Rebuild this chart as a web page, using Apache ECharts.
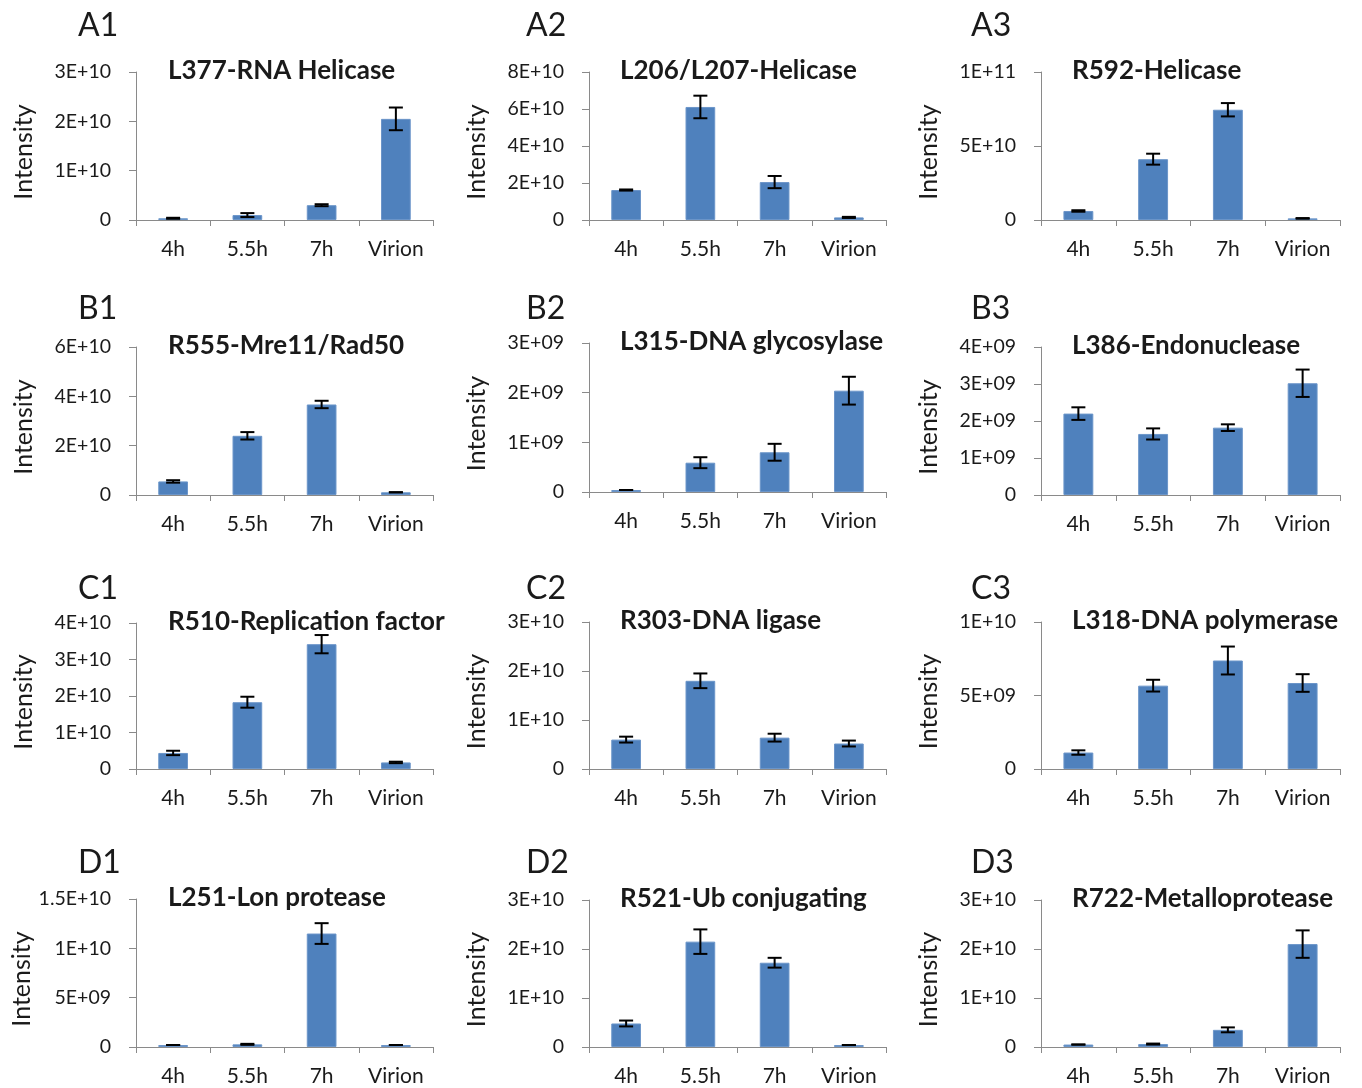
<!DOCTYPE html>
<html>
<head>
<meta charset="utf-8">
<script src="https://cdn.jsdelivr.net/npm/echarts@6/dist/echarts.min.js"></script>
<style>
html,body{margin:0;padding:0;background:#fff;}
#chart{width:1362px;height:1088px;}
</style>
</head>
<body>
<div id="chart"></div>
<script>
// ---------- DATA ----------
const categories = ['4h', '5.5h', '7h', 'Virion'];
const panelLetters = ['A1','A2','A3','B1','B2','B3','C1','C2','C3','D1','D2','D3'];
const panelTitles = [
  'L377-RNA Helicase', 'L206/L207-Helicase', 'R592-Helicase',
  'R555-Mre11/Rad50', 'L315-DNA glycosylase', 'L386-Endonuclease',
  'R510-Replication factor', 'R303-DNA ligase', 'L318-DNA polymerase',
  'L251-Lon protease', 'R521-Ub conjugating', 'R722-Metalloprotease'
];
const yMax      = [3e10, 8e10, 1e11, 6e10, 3e9, 4e9, 4e10, 3e10, 1e10, 1.5e10, 3e10, 3e10];
const yInterval = [1e10, 2e10, 5e10, 2e10, 1e9, 1e9, 1e10, 1e10, 5e9, 5e9, 1e10, 1e10];

const valsA1 = [3.5e8, 1.0e9, 3.0e9, 2.05e10];   const errA1 = [1e8, 4e8, 2e8, 2.3e9];
const valsA2 = [1.62e10, 6.11e10, 2.05e10, 1.4e9]; const errA2 = [3e8, 6.1e9, 3.3e9, 3e8];
const valsA3 = [6.1e9, 4.11e10, 7.45e10, 1.1e9];  const errA3 = [5e8, 3.7e9, 4.5e9, 2e8];
const valsB1 = [5.5e9, 2.40e10, 3.67e10, 1.1e9];  const errB1 = [5e8, 1.5e9, 1.5e9, 0];
const valsB2 = [4e7, 5.9e8, 8.0e8, 2.04e9];       const errB2 = [0, 1.1e8, 1.7e8, 2.8e8];
const valsB3 = [2.2e9, 1.65e9, 1.82e9, 3.02e9];   const errB3 = [1.7e8, 1.5e8, 9e7, 3.7e8];
const valsC1 = [4.4e9, 1.83e10, 3.42e10, 1.8e9];  const errC1 = [6e8, 1.5e9, 2.5e9, 2e8];
const valsC2 = [6.0e9, 1.8e10, 6.4e9, 5.2e9];     const errC2 = [6e8, 1.5e9, 8e8, 6e8];
const valsC3 = [1.12e9, 5.67e9, 7.38e9, 5.85e9];  const errC3 = [1.5e8, 4e8, 9.5e8, 6e8];
const valsD1 = [2e8, 2.7e8, 1.15e10, 2e8];        const errD1 = [0, 5e7, 1.05e9, 0];
const valsD2 = [4.8e9, 2.15e10, 1.72e10, 4e8];    const errD2 = [6e8, 2.5e9, 1e9, 0];
const valsD3 = [5e8, 6e8, 3.5e9, 2.1e10];         const errD3 = [0, 1e8, 5e8, 2.8e9];

const allVals = [valsA1, valsA2, valsA3, valsB1, valsB2, valsB3, valsC1, valsC2, valsC3, valsD1, valsD2, valsD3];
const allErrs = [errA1, errA2, errA3, errB1, errB2, errB3, errC1, errC2, errC3, errD1, errD2, errD3];

// ---------- LAYOUT ----------
const colLeft = [136, 589, 1041];
const colWidth = [297, 297, 299];
const gridTop  = [72, 72, 72, 347, 343, 347, 623, 622, 622, 899, 900, 900];
const gridZero = [220, 220, 220, 495, 492, 495, 769, 769, 769, 1047, 1047, 1047];
const letterX = [78, 526, 971];
const letterY = [25, 308, 588, 862];
const titleX = [168, 620, 1072];

const FONT = 'Lato, "Open Sans", "Liberation Sans", sans-serif';
const AXIS_COLOR = '#8a8a8a';
const TEXT_COLOR = '#1a1a1a';
const BAR_COLOR = '#4f81bd';

function fmt(v) {
  if (v === 0) return '0';
  let s = v.toExponential().toUpperCase(); // e.g. 3E+10, 5E+9, 1.5E+10
  s = s.replace(/E([+-])(\d)$/, 'E$10$2');
  return s;
}

const grids = [], xAxes = [], yAxes = [], series = [], graphics = [];
for (let i = 0; i < 12; i++) {
  const c = i % 3, r = Math.floor(i / 3);
  grids.push({
    left: colLeft[c], top: gridTop[i], width: colWidth[c], height: gridZero[i] - gridTop[i],
    containLabel: false
  });
  xAxes.push({
    type: 'category', gridIndex: i, data: categories, boundaryGap: true,
    axisLine: { show: true, lineStyle: { color: AXIS_COLOR, width: 1 } },
    axisTick: { show: true, length: 6, lineStyle: { color: AXIS_COLOR } },
    axisLabel: { color: TEXT_COLOR, fontSize: 21, fontFamily: FONT, margin: 19 },
    splitLine: { show: false }
  });
  yAxes.push({
    type: 'value', gridIndex: i, min: 0, max: yMax[i], interval: yInterval[i],
    name: 'Intensity', nameLocation: 'middle', nameRotate: 90, nameGap: 100,
    nameTextStyle: { color: TEXT_COLOR, fontSize: 25, fontFamily: FONT, padding: [0, 12, 0, 0] },
    axisLine: { show: true, lineStyle: { color: AXIS_COLOR, width: 1 } },
    axisTick: { show: true, length: 7, lineStyle: { color: AXIS_COLOR } },
    axisLabel: { color: TEXT_COLOR, fontSize: 19.5, fontFamily: FONT, margin: 25, formatter: fmt },
    splitLine: { show: false }
  });
  series.push({
    type: 'bar', xAxisIndex: i, yAxisIndex: i, data: allVals[i], barWidth: '40%',
    itemStyle: { color: BAR_COLOR, borderColor: '#6b95c9', borderWidth: 1 },
    silent: true, animation: false, z: 2
  });
  const v = allVals[i], e = allErrs[i];
  series.push({
    type: 'custom', xAxisIndex: i, yAxisIndex: i, animation: false, silent: true, z: 10,
    data: v.map((val, j) => [j, val - e[j], val + e[j]]),
    encode: { x: 0, y: [1, 2] },
    renderItem: function (params, api) {
      const x = api.value(0);
      const lo = api.coord([x, api.value(1)]);
      const hi = api.coord([x, api.value(2)]);
      const hw = 7;
      const st = { stroke: '#000', lineWidth: 2 };
      return {
        type: 'group',
        children: [
          { type: 'line', shape: { x1: lo[0], y1: lo[1], x2: hi[0], y2: hi[1] }, style: st },
          { type: 'line', shape: { x1: lo[0] - hw, y1: lo[1], x2: lo[0] + hw, y2: lo[1] }, style: st },
          { type: 'line', shape: { x1: hi[0] - hw, y1: hi[1], x2: hi[0] + hw, y2: hi[1] }, style: st }
        ]
      };
    }
  });
  graphics.push({
    type: 'text', x: letterX[c], y: letterY[r] + 1,
    style: { text: panelLetters[i], font: '32px ' + FONT, fill: TEXT_COLOR, align: 'left', verticalAlign: 'middle' }
  });
  graphics.push({
    type: 'text', x: titleX[c], y: gridTop[i] - 1,
    style: { text: panelTitles[i], font: 'bold 26px ' + FONT, fill: TEXT_COLOR, align: 'left', verticalAlign: 'middle' }
  });
}

const chart = echarts.init(document.getElementById('chart'), null, { renderer: 'canvas' });
chart.setOption({
  animation: false,
  backgroundColor: '#ffffff',
  grid: grids,
  xAxis: xAxes,
  yAxis: yAxes,
  series: series,
  graphic: graphics
});
</script>
</body>
</html>
